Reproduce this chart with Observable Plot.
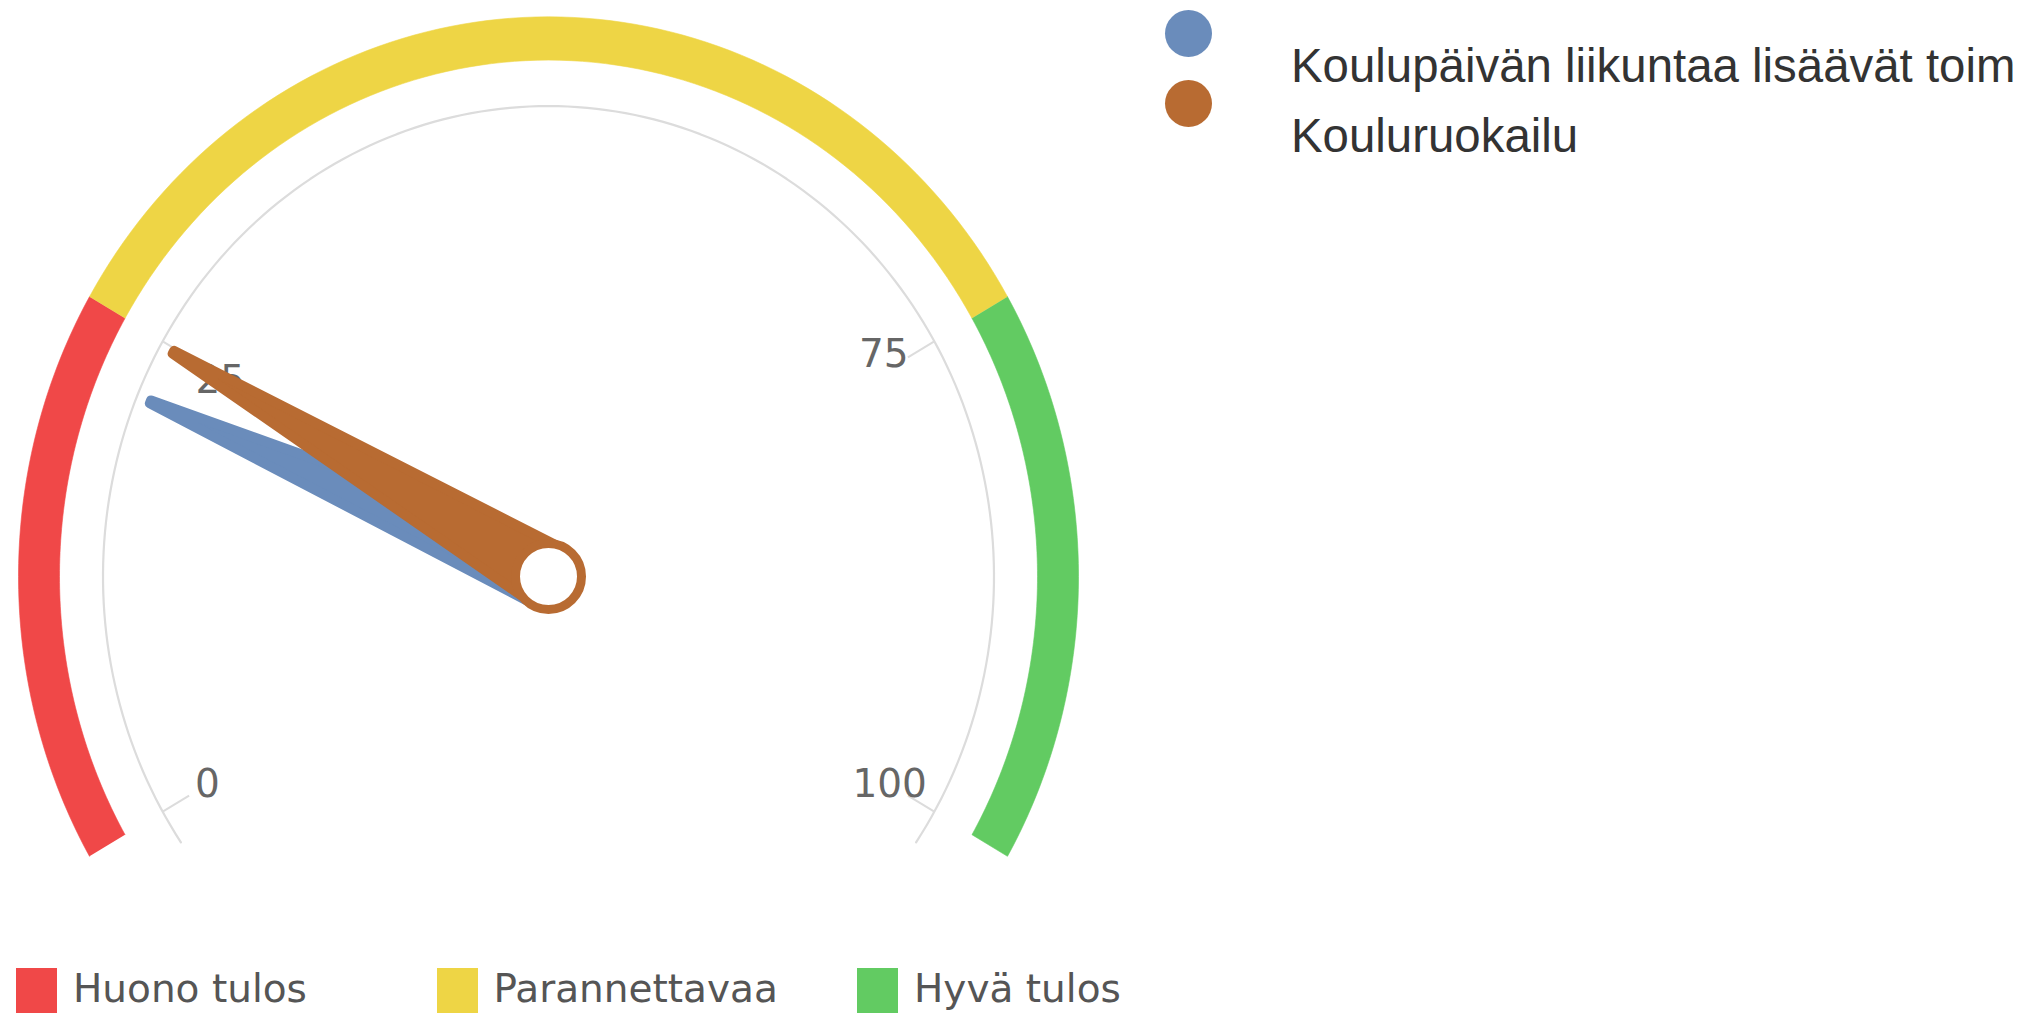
<!DOCTYPE html>
<html><head><meta charset="utf-8">
<script src="https://cdn.jsdelivr.net/npm/d3@7"></script>
<script src="https://cdn.jsdelivr.net/npm/@observablehq/plot@0.6"></script>
<style>
html,body{margin:0;padding:0;background:#fff;overflow:hidden;}
#wrap{position:relative;width:2017px;height:1014px;overflow:hidden;}
#wrap svg{position:absolute;left:0;top:0;}
.series{position:absolute;font-family:"Liberation Sans",Arial,sans-serif;font-size:47.4px;line-height:47.4px;color:#333;white-space:nowrap;}
.dot{position:absolute;width:47px;height:47px;border-radius:50%;}
.band-key{position:absolute;top:968px;width:41px;height:45px;}
.band-label{position:absolute;font-family:"DejaVu Sans",sans-serif;font-size:39px;line-height:39px;color:#555;white-space:nowrap;}
</style></head><body><div id="wrap"></div>
<script>
// ---- data ----
const bandNames = ["Huono tulos", "Parannettavaa", "Hyvä tulos"];
const bandFrom = [0, 25, 75];
const bandTo = [25, 75, 100];
const bandColors = ["#f04848", "#eed545", "#62cb62"];
const seriesNames = ["Koulupäivän liikuntaa lisäävät toim", "Kouluruokailu"];
const seriesValues = [21.9, 24.8];
const seriesColors = ["#6a8cbb", "#b86b32"];
const tickValues = [0, 25, 75, 100];
const tickLabels = ["0", "25", "75", "100"];

// ---- layout ----
const W = 2017, H = 1014;
const cx = 548, cy = 576, S = 1.056;
const ang = d3.scaleLinear().domain([0, 100]).range([-120, 120]);
const axisStart = -124.4, axisEnd = 124.4;
const R_OUT = 530, R_IN = 489, R_AXIS = 445.5, R_TICK_IN = 415, R_LABEL = 394, R_NEEDLE = 431;
// small label nudges (px) for the upper labels, as in the original rendering
const labelNudge = {25: [13, 12], 75: [-6, -14]};
function pt(r, deg) { const t = deg * Math.PI / 180; return {x: r * Math.sin(t), y: r * Math.cos(t)}; }
function arc(r, d0, d1, n = 90) { return d3.range(n + 1).map(k => pt(r, d0 + (d1 - d0) * k / n)); }
function labelPos(v) {
  const p = pt(R_LABEL, ang(v));
  const n = labelNudge[v] || [0, 0];
  return {x: p.x + n[0], y: p.y - n[1] / S};
}

const bandMarks = bandNames.map((name, i) => {
  const a0 = ang(bandFrom[i]), a1 = ang(bandTo[i]);
  const poly = arc(R_OUT, a0, a1).concat(arc(R_IN, a1, a0));
  return Plot.line(poly, {x: "x", y: "y", fill: bandColors[i], stroke: bandColors[i], strokeWidth: 0.6, strokeLinejoin: "miter"});
});

const needleMarks = seriesNames.map((name, i) => {
  const t = ang(seriesValues[i]) * Math.PI / 180;
  const ux = Math.sin(t), uy = Math.cos(t), px = Math.cos(t), py = -Math.sin(t);
  const hb = 30, ht = 1.5;
  const poly = [
    {x: px * hb, y: py * hb},
    {x: ux * R_NEEDLE + px * ht, y: uy * R_NEEDLE + py * ht},
    {x: ux * R_NEEDLE - px * ht, y: uy * R_NEEDLE - py * ht},
    {x: -px * hb, y: -py * hb}
  ];
  return Plot.line(poly, {x: "x", y: "y", fill: seriesColors[i], stroke: seriesColors[i], strokeWidth: 10, strokeLinejoin: "round"});
});

const chart = Plot.plot({
  width: W, height: H, margin: 0,
  x: {domain: [-cx, W - cx], axis: null},
  y: {domain: [-(H - cy) / S, cy / S], axis: null},
  style: {background: "transparent"},
  marks: [
    ...bandMarks,
    Plot.line(arc(R_AXIS, axisStart, axisEnd, 200), {x: "x", y: "y", stroke: "#dcdcdc", strokeWidth: 2.2}),
    Plot.link(tickValues, {
      x1: v => pt(R_AXIS, ang(v)).x, y1: v => pt(R_AXIS, ang(v)).y,
      x2: v => pt(R_TICK_IN, ang(v)).x, y2: v => pt(R_TICK_IN, ang(v)).y,
      stroke: "#dcdcdc", strokeWidth: 2
    }),
    Plot.text(tickValues, {
      x: v => labelPos(v).x, y: v => labelPos(v).y,
      text: (v, i) => tickLabels[i], fontSize: 39, fontFamily: "DejaVu Sans", fill: "#666",
      textAnchor: "middle", lineAnchor: "middle"
    }),
    ...needleMarks,
    Plot.dot([pt(0, 0)], {x: "x", y: "y", r: 33, fill: "white", stroke: seriesColors[1], strokeWidth: 9})
  ]
});
const wrap = document.getElementById("wrap");
wrap.appendChild(chart);

// series legend (top right)
seriesNames.forEach((name, i) => {
  const d = document.createElement("div");
  d.className = "dot";
  d.style.left = "1165px"; d.style.top = (10 + i * 70) + "px";
  d.style.background = seriesColors[i];
  wrap.appendChild(d);
  const t = document.createElement("div");
  t.className = "series";
  t.style.left = "1291px"; t.style.top = (42 + i * 70) + "px";
  t.textContent = name;
  wrap.appendChild(t);
});

// band legend (bottom)
bandNames.forEach((name, i) => {
  const left = 16 + i * 420.5;
  const k = document.createElement("div");
  k.className = "band-key";
  k.style.left = left + "px"; k.style.background = bandColors[i];
  wrap.appendChild(k);
  const t = document.createElement("div");
  t.className = "band-label";
  t.style.left = (left + 57) + "px"; t.style.top = "969px";
  t.textContent = name;
  wrap.appendChild(t);
});
</script></body></html>
